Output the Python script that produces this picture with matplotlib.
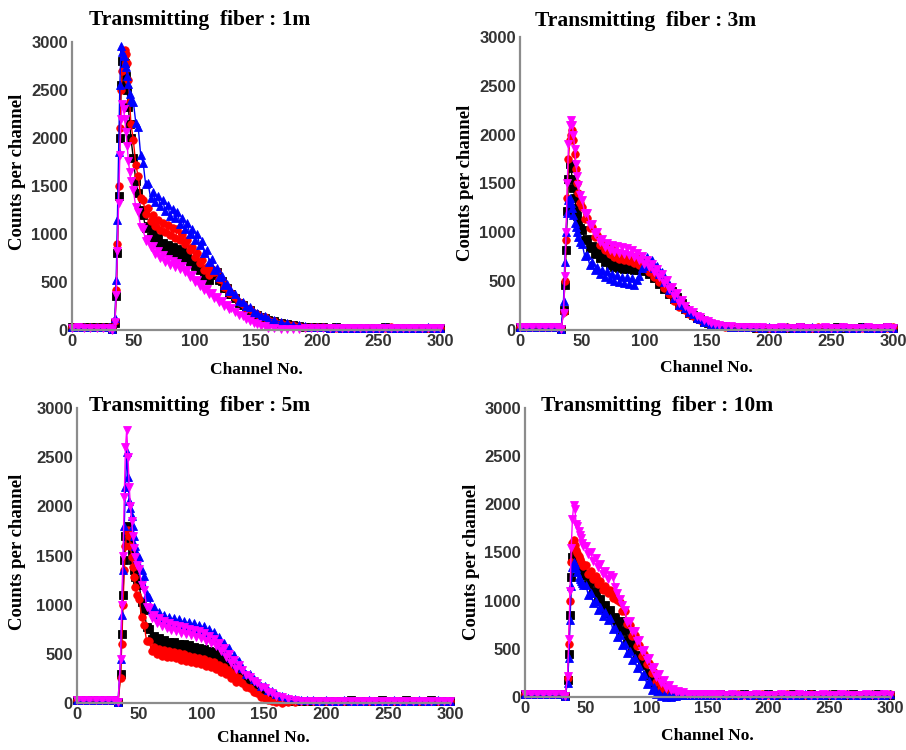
import numpy as np
import matplotlib.pyplot as plt

plt.rcParams['font.family'] = 'Liberation Serif'

# channel grid shared by every spectrum
channels = np.r_[0:31:5, 33, 35:49, 50:131:2, 133:161:3, 165:201:5, 205:301:5]

# ---- transmitting fiber 1 m ----
blk_1m = [30, 31, 29, 30, 32, 29, 30, 6,
          70, 350, 800, 1400, 2000, 2550, 2800, 2870, 2780, 2650, 2500, 2320, 2150, 2000,
          1790, 1550, 1430, 1250, 1200, 1060, 1080, 970, 1010, 920, 960, 880, 910, 850, 890, 820,
          860, 800, 840, 770, 820, 750, 780, 710, 730, 665, 690, 620, 640, 560, 590, 525, 575, 585,
          600, 520, 510, 440, 435, 375, 370,
          330, 280, 262, 220, 206, 170, 160, 134, 126, 106,
          92, 74, 60, 50, 42, 36, 31, 29,
          27, 26, 27, 25, 26, 25, 24, 26, 25, 24, 27, 25, 26, 24, 25, 26, 24, 25, 26, 24]
red_1m = [29, 30, 31, 28, 30, 31, 29, 8,
          90, 420, 900, 1500, 2100, 2500, 2700, 2850, 2920, 2880, 2780, 2600, 2380, 2150,
          1980, 1720, 1600, 1380, 1350, 1210, 1270, 1140, 1200, 1080, 1150, 1040, 1110, 1020, 1090,
          990, 1060, 960, 1050, 940, 1000, 900, 940, 830, 860, 760, 800, 700, 730, 630, 660, 570,
          640, 600, 610, 530, 520, 450, 450, 390, 385,
          345, 292, 275, 230, 214, 176, 168, 136, 131, 108,
          95, 76, 61, 51, 43, 36, 31, 28,
          27, 25, 26, 24, 26, 25, 24, 25, 26, 24, 25, 27, 24, 26, 25, 24, 26, 25, 24, 26]
blu_1m = [28, 30, 32, 30, 29, 31, 30, 10,
          130, 520, 1150, 1850, 2550, 2960, 2900, 2850, 2780, 2740, 2650, 2560, 2460, 2400,
          2380, 2160, 2110, 1820, 1740, 1520, 1530, 1380, 1440, 1330, 1400, 1290, 1350, 1240, 1300,
          1190, 1260, 1170, 1230, 1100, 1170, 1050, 1110, 1000, 1050, 940, 1000, 890, 930, 800,
          830, 710, 740, 630, 650, 550, 560, 470, 475, 405, 410,
          370, 305, 295, 245, 235, 190, 180, 145, 142, 118,
          104, 80, 68, 54, 47, 37, 34, 29,
          28, 26, 27, 25, 26, 24, 25, 26, 24, 25, 27, 24, 26, 25, 24, 26, 25, 27, 24, 25]
mag_1m = [25, 27, 26, 24, 26, 25, 24, 5,
          80, 360, 820, 1320, 1820, 2200, 2350, 2300, 2200, 2060, 1920, 1760, 1650, 1550,
          1460, 1280, 1230, 1070, 1050, 930, 950, 860, 875, 795, 820, 745, 780, 705, 740, 680,
          715, 660, 695, 640, 670, 605, 625, 550, 570, 500, 525, 460, 480, 420, 430, 370, 390, 335,
          345, 295, 305, 255, 265, 220, 225,
          190, 156, 142, 110, 98, 72, 63, 43, 37, 26,
          20, 15, 12, 12, 14, 16, 18, 20,
          20, 22, 21, 20, 22, 21, 20, 22, 21, 20, 21, 22, 20, 21, 22, 20, 21, 22, 20, 21]

# ---- transmitting fiber 3 m ----
blk_3m = [30, 31, 29, 30, 31, 29, 30, 8,
          200, 460, 820, 1220, 1550, 1700, 1660, 1550, 1450, 1350, 1250, 1170, 1100, 1040,
          1020, 920, 930, 835, 860, 775, 810, 735, 770, 695, 735, 670, 715, 650, 690, 635, 680,
          625, 675, 620, 670, 615, 665, 610, 655, 600, 640, 575, 605, 530, 550, 470, 490, 415,
          440, 370, 395, 320, 340, 260, 280,
          220, 176, 155, 121, 109, 85, 75, 58, 52, 41,
          36, 31, 28, 27, 26, 25, 25, 24,
          25, 24, 25, 24, 26, 25, 24, 25, 24, 25, 26, 24, 25, 24, 26, 25, 24, 25, 26, 24]
red_3m = [28, 30, 29, 31, 30, 29, 31, 10,
          180, 500, 920, 1350, 1750, 1950, 2000, 2050, 1950, 1800, 1650, 1500, 1400, 1300,
          1260, 1140, 1150, 1040, 1050, 950, 970, 870, 900, 815, 855, 780, 825, 750, 800, 730,
          780, 715, 770, 705, 755, 685, 735, 665, 710, 635, 675, 595, 630, 545, 580, 490, 520,
          430, 460, 370, 395, 300, 330, 240, 265,
          205, 166, 144, 112, 98, 77, 67, 53, 47, 39,
          35, 31, 28, 27, 26, 25, 24, 25,
          24, 25, 26, 24, 25, 24, 25, 26, 24, 25, 24, 26, 25, 24, 25, 26, 24, 25, 24, 26]
blu_3m = [30, 28, 30, 29, 31, 30, 29, 6,
          300, 700, 1000, 1200, 1330, 1350, 1300, 1250, 1180, 1100, 1050, 1000, 950, 900,
          880, 760, 770, 670, 700, 610, 650, 570, 615, 545, 600, 525, 575, 505, 560, 490, 545,
          480, 540, 470, 530, 460, 515, 550, 630, 660, 750, 690, 720, 630, 660, 570, 590, 490,
          510, 410, 430, 330, 350, 260, 285,
          228, 180, 160, 126, 114, 87, 78, 60, 54, 43,
          38, 32, 30, 28, 27, 26, 25, 26,
          25, 24, 26, 25, 24, 25, 26, 24, 25, 24, 25, 26, 24, 25, 26, 24, 25, 24, 26, 25]
mag_3m = [30, 29, 31, 30, 29, 31, 30, 8,
          170, 550, 1000, 1500, 1900, 2100, 2150, 2100, 2000, 1850, 1700, 1580, 1480, 1380,
          1330, 1200, 1200, 1080, 1090, 980, 1000, 905, 935, 850, 890, 820, 870, 800, 855, 790,
          845, 780, 835, 770, 820, 745, 790, 715, 760, 680, 720, 640, 675, 590, 625, 540, 570,
          480, 510, 420, 445, 350, 375, 280, 305,
          246, 200, 180, 146, 129, 101, 91, 71, 64, 50,
          44, 38, 33, 30, 28, 27, 26, 25,
          25, 26, 24, 25, 26, 25, 24, 25, 26, 25, 24, 26, 25, 24, 25, 26, 25, 24, 26, 25]

# ---- transmitting fiber 5 m ----
blk_5m = [30, 29, 31, 30, 29, 31, 30, 8,
          300, 700, 1100, 1450, 1700, 1800, 1780, 1720, 1650, 1550, 1450, 1350, 1280, 1220,
          1200, 1030, 950, 770, 750, 650, 685, 610, 660, 590, 640, 570, 625, 565, 620, 550, 605,
          540, 595, 530, 585, 518, 570, 505, 560, 495, 545, 475, 530, 465, 520, 440, 480, 400,
          440, 360, 395, 315, 355, 275, 320,
          265, 225, 210, 175, 160, 120, 105, 76, 64, 42,
          32, 25, 22, 22, 23, 24, 25, 24,
          25, 24, 25, 26, 24, 25, 24, 25, 26, 24, 25, 24, 26, 25, 24, 25, 26, 24, 25, 24]
red_5m = [29, 31, 30, 28, 30, 29, 28, 8,
          250, 600, 1000, 1350, 1600, 1750, 1760, 1700, 1600, 1480, 1380, 1280, 1180, 1100,
          1060, 870, 790, 630, 630, 530, 570, 500, 550, 480, 535, 470, 525, 463, 520, 455, 508,
          440, 495, 428, 480, 415, 470, 405, 458, 394, 445, 378, 430, 365, 420, 345, 390, 315,
          365, 292, 335, 255, 295, 215, 255,
          200, 165, 150, 115, 100, 65, 55, 30, 24, 8,
          5, 8, 14, 18, 20, 22, 23, 24,
          24, 25, 23, 24, 25, 24, 23, 25, 24, 23, 24, 25, 23, 24, 25, 24, 23, 25, 24, 23]
blu_5m = [30, 32, 30, 31, 30, 29, 31, 10,
          450, 900, 1350, 1800, 2200, 2550, 2300, 2050, 1980, 1900, 1800, 1700, 1600, 1520,
          1480, 1350, 1290, 1110, 1080, 960, 980, 890, 930, 850, 895, 820, 870, 805, 860, 795,
          850, 780, 835, 770, 825, 755, 810, 745, 795, 730, 780, 710, 755, 680, 725, 640, 675,
          585, 615, 530, 555, 460, 490, 395, 425,
          360, 300, 290, 240, 225, 175, 168, 128, 121, 90,
          75, 55, 40, 32, 28, 26, 25, 26,
          25, 24, 26, 25, 24, 25, 26, 24, 25, 24, 26, 25, 24, 25, 26, 24, 25, 26, 24, 25]
mag_5m = [28, 30, 29, 30, 28, 29, 30, 6,
          450, 1000, 1500, 2100, 2600, 2780, 2500, 2200, 2000, 1850, 1700, 1580, 1480, 1400,
          1360, 1200, 1150, 980, 970, 860, 890, 810, 860, 785, 835, 760, 810, 740, 795, 730, 780,
          715, 770, 700, 755, 688, 740, 675, 728, 660, 710, 635, 685, 610, 655, 575, 610, 525,
          555, 465, 495, 405, 435, 350, 390,
          335, 280, 268, 222, 208, 162, 152, 113, 106, 76,
          62, 42, 28, 20, 18, 20, 22, 22,
          22, 21, 22, 23, 21, 22, 21, 22, 23, 21, 22, 21, 23, 22, 21, 22, 23, 21, 22, 21]

# ---- transmitting fiber 10 m ----
blk_10m = [30, 30, 31, 29, 30, 31, 29, 8,
           180, 450, 850, 1250, 1450, 1500, 1480, 1440, 1400, 1370, 1340, 1310, 1290, 1270,
           1270, 1170, 1190, 1080, 1100, 1000, 1020, 925, 955, 870, 900, 810, 835, 750, 790, 690,
           700, 590, 605, 510, 540, 430, 440, 330, 340, 230, 245, 150, 165, 90, 105, 50, 62, 30,
           38, 20, 26, 18, 22, 20, 23,
           23, 24, 25, 24, 25, 26, 25, 24, 25, 26,
           25, 24, 25, 26, 25, 24, 25, 26,
           25, 24, 25, 26, 24, 25, 26, 25, 24, 25, 26, 24, 25, 26, 25, 24, 25, 26, 24, 25]
red_10m = [29, 31, 30, 30, 29, 31, 30, 10,
           200, 550, 1000, 1400, 1600, 1630, 1580, 1530, 1490, 1460, 1430, 1400, 1380, 1360,
           1370, 1280, 1310, 1220, 1255, 1170, 1200, 1110, 1150, 1080, 1110, 1030, 1075, 1005, 990,
           890, 895, 760, 750, 630, 640, 530, 540, 430, 445, 340, 350, 245, 260, 160, 180, 95, 110,
           55, 70, 35, 45, 25, 32, 22, 27,
           26, 25, 24, 25, 26, 25, 24, 25, 26, 25,
           24, 25, 26, 25, 24, 25, 26, 25,
           24, 25, 26, 25, 24, 25, 26, 24, 25, 26, 24, 25, 26, 25, 24, 25, 26, 24, 25, 26]
blu_10m = [30, 31, 29, 30, 31, 29, 30, 6,
           150, 400, 800, 1150, 1350, 1400, 1380, 1340, 1300, 1250, 1220, 1200, 1180, 1160,
           1160, 1060, 1080, 980, 1000, 905, 935, 845, 880, 800, 820, 710, 720, 625, 640, 535, 555,
           460, 480, 380, 400, 300, 320, 220, 240, 140, 165, 75, 100, 30, 45, 8, 18, 3, 6,
           2, 9, 10, 17, 18, 23,
           24, 25, 25, 26, 25, 26, 25, 26, 25, 26,
           25, 26, 25, 26, 25, 26, 25, 26,
           25, 26, 25, 24, 25, 26, 25, 24, 25, 26, 25, 24, 26, 25, 24, 25, 26, 25, 24, 26]
mag_10m = [30, 29, 31, 30, 29, 30, 31, 10,
           220, 600, 1100, 1550, 1850, 1990, 1950, 1800, 1770, 1720, 1680, 1650, 1600, 1570,
           1570, 1480, 1510, 1410, 1440, 1350, 1380, 1280, 1310, 1220, 1270, 1250, 1140, 1080,
           1020, 960, 900, 780, 790, 680, 690, 580, 590, 475, 485, 380, 400, 295, 310, 210, 235,
           145, 180, 95, 125, 70, 85, 52, 62, 40, 48,
           36, 33, 30, 29, 28, 27, 26, 26, 25, 26,
           25, 26, 25, 24, 25, 26, 25, 24,
           25, 26, 25, 24, 26, 25, 24, 25, 26, 25, 24, 26, 25, 24, 25, 26, 25, 24, 26, 25]

fiber_lengths = ['1m', '3m', '5m', '10m']
spectra = [(blk_1m, red_1m, blu_1m, mag_1m),
           (blk_3m, red_3m, blu_3m, mag_3m),
           (blk_5m, red_5m, blu_5m, mag_5m),
           (blk_10m, red_10m, blu_10m, mag_10m)]
styles = [('black', 's'), ('red', 'o'), ('blue', '^'), ('magenta', 'v')]

W, H = 906, 750
# axes boxes in pixels: left, top, right, bottom
boxes = [(72, 42, 440, 330), (520, 37, 893, 330),
         (77, 408, 450, 703), (525, 408, 890, 697)]
title_xy = [(200, 20), (646, 21), (200, 406), (657, 406)]
ylabel_xy = [(18, 172), (466, 183), (18, 552), (471, 562)]
xlabel_y = [370, 368, 738, 736]

fig = plt.figure(figsize=(W / 100, H / 100), dpi=100)

for i in range(4):
    l, t, r, b = boxes[i]
    ax = fig.add_axes([l / W, 1 - b / H, (r - l) / W, (b - t) / H])
    for y, (c, m) in zip(spectra[i], styles):
        ax.plot(channels, y, color=c, marker=m, ms=5.4, lw=1.0, mew=0.6, clip_on=False)
    ax.set_xlim(0, 300)
    ax.set_ylim(0, 3000)
    ax.set_xticks(np.arange(0, 301, 50))
    ax.set_yticks(np.arange(0, 3001, 500))
    for s in ['top', 'right']:
        ax.spines[s].set_visible(False)
    for s in ['left', 'bottom']:
        ax.spines[s].set_color('#8c8c8c')
        ax.spines[s].set_linewidth(1.6)
    ax.tick_params(length=0, pad=3)
    for lab in ax.get_xticklabels() + ax.get_yticklabels():
        lab.set_fontfamily('Liberation Sans')
        lab.set_fontweight('bold')
        lab.set_fontsize(12)
        lab.set_color('#333333')

    tx, ty = title_xy[i]
    fig.text(tx / W, 1 - ty / H, 'Transmitting  fiber : ' + fiber_lengths[i],
             ha='center', va='center', fontsize=15.5, fontweight='bold')
    lx, ly = ylabel_xy[i]
    fig.text(lx / W, 1 - ly / H, 'Counts per channel', rotation=90,
             ha='center', va='center', fontsize=13.5, fontweight='bold')
    fig.text((l + r) / 2 / W, 1 - xlabel_y[i] / H, 'Channel No.',
             ha='center', va='center', fontsize=12.5, fontweight='bold')

fig.savefig('out.png', dpi=100)
